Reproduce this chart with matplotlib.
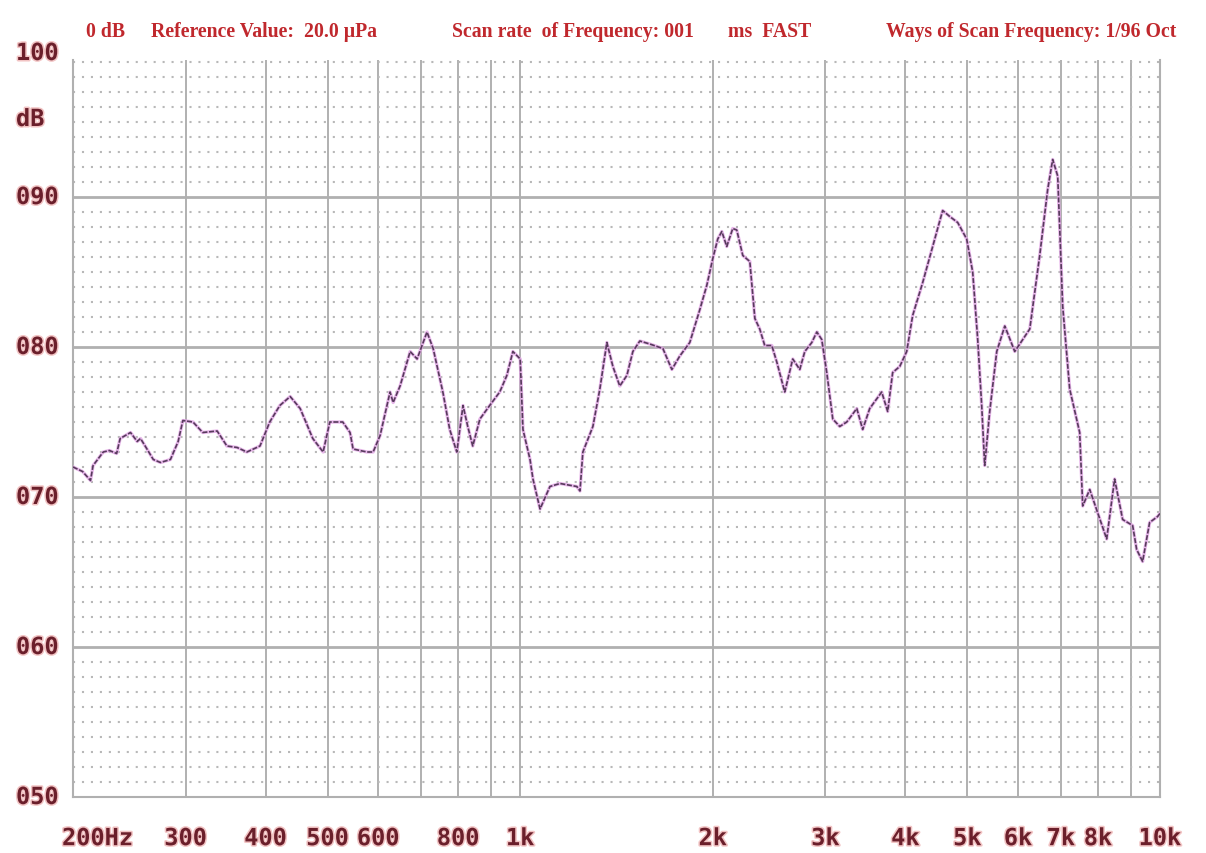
import matplotlib
matplotlib.use('Agg')

import matplotlib.pyplot as plt
import matplotlib.patheffects as pe
import matplotlib.transforms as mtransforms
from matplotlib.ticker import MultipleLocator, NullLocator

# Frequency response
freq_hz = [200, 207, 213, 215, 223, 228, 234, 237, 246, 252, 255, 261, 267, 274, 284,
           292, 297, 308, 319, 336, 348, 361, 374, 392, 406, 421, 437, 453, 474, 492,
           504, 528, 542, 548, 576, 589, 604, 626, 633, 649, 673, 690, 715, 731, 757,
           776, 796, 814, 828, 843, 865, 896, 929, 953, 974, 1000, 1010, 1036, 1047, 1074,
           1113, 1154, 1226, 1240, 1253, 1299, 1332, 1366, 1396, 1431, 1468, 1500, 1538, 1594, 1671,
           1726, 1776, 1841, 1909, 1957, 2000, 2036, 2066, 2103, 2149, 2180, 2228, 2285, 2327, 2368,
           2411, 2473, 2518, 2591, 2667, 2735, 2785, 2856, 2908, 2960, 3014, 3080, 3158, 3239, 3358,
           3430, 3518, 3673, 3753, 3821, 3919, 4019, 4106, 4257, 4413, 4574, 4692, 4828, 4987, 5096,
           5189, 5264, 5321, 5418, 5557, 5720, 5929, 6103, 6258, 6486, 6675, 6796, 6920, 7046, 7225,
           7490, 7572, 7765, 8254, 8493, 8742, 9062, 9194, 9394, 9633, 9914, 10000]
level_db = [72.0, 71.7, 71.1, 72.1, 73.0, 73.1, 72.9, 73.9, 74.3, 73.7, 73.9, 73.2, 72.5, 72.3, 72.5,
            73.7, 75.1, 75.0, 74.3, 74.4, 73.4, 73.3, 73.0, 73.4, 75.0, 76.1, 76.7, 75.9, 73.9, 73.0,
            75.0, 75.0, 74.3, 73.2, 73.0, 73.0, 74.1, 77.0, 76.3, 77.4, 79.7, 79.2, 81.0, 79.9, 77.0,
            74.5, 73.0, 76.1, 74.7, 73.4, 75.2, 76.1, 77.0, 78.1, 79.7, 79.2, 74.5, 72.5, 71.2, 69.2,
            70.7, 70.9, 70.7, 70.4, 73.0, 74.7, 77.2, 80.3, 78.7, 77.4, 78.1, 79.7, 80.4, 80.2, 79.9,
            78.5, 79.4, 80.3, 82.5, 84.1, 85.9, 87.2, 87.7, 86.7, 87.9, 87.8, 86.1, 85.7, 81.9, 81.2,
            80.1, 80.1, 79.0, 77.0, 79.2, 78.5, 79.7, 80.3, 81.0, 80.5, 78.3, 75.2, 74.7, 75.0, 75.9,
            74.5, 75.9, 77.0, 75.7, 78.3, 78.7, 79.7, 82.1, 84.3, 86.7, 89.1, 88.7, 88.3, 87.2, 85.0,
            80.5, 76.1, 72.1, 75.7, 79.7, 81.4, 79.7, 80.5, 81.2, 86.1, 90.5, 92.5, 91.4, 82.7, 77.2,
            74.3, 69.4, 70.5, 67.2, 71.2, 68.5, 68.1, 66.5, 65.7, 68.3, 68.7, 68.9]

# Vertical grid lines and their labels ('' = line without label)
grid_freqs = [200, 300, 400, 500, 600, 700, 800, 900, 1000,
              2000, 3000, 4000, 5000, 6000, 7000, 8000, 9000, 10000]
grid_labels = ['200Hz', '300', '400', '500', '600', '', '800', '', '1k',
               '2k', '3k', '4k', '5k', '6k', '7k', '8k', '', '10k']

y_label_vals = [99.6, 95.2, 90, 80, 70, 60, 50]
y_label_texts = ['100', 'dB', '090', '080', '070', '060', '050']

header_texts = ['0 dB', 'Reference Value:  20.0 \u00b5Pa', 'Scan rate  of Frequency: 001',
                'ms  FAST', 'Ways of Scan Frequency: 1/96 Oct']
header_x = [86, 151, 452, 728, 886]

W, H = 1206, 854
label_color = '#6b1f2b'
glow = [pe.withStroke(linewidth=2.2, foreground='#f2c4c4')]

fig = plt.figure(figsize=(W / 100, H / 100), dpi=100)
ax = fig.add_axes([73 / W, 1 - 798 / H, 1087 / W, 737 / H])

ax.set_xscale('log')
ax.set_xlim(200, 10000)
ax.set_ylim(50, 50 + 737 / 15)

# grid
ax.xaxis.set_minor_locator(NullLocator())
ax.set_xticks(grid_freqs)
ax.set_xticklabels(grid_labels)
ax.yaxis.set_major_locator(MultipleLocator(10))
ax.yaxis.set_minor_locator(MultipleLocator(1))
ax.grid(True, which='major', axis='x', color='#b0b0b0', lw=1.4)
ax.grid(True, which='major', axis='y', color='#b0b0b0', lw=2.0)
ax.grid(True, which='minor', axis='y', color='#b8b8b8', lw=1.5, linestyle=(0, (1, 3.3)))
ax.set_axisbelow(True)

for s in ['left', 'right', 'bottom']:
    ax.spines[s].set_color('#b0b0b0')
    ax.spines[s].set_linewidth(1.5)
ax.spines['top'].set_visible(False)

ax.tick_params(axis='both', which='both', length=0)
ax.tick_params(axis='y', labelleft=False)
ax.tick_params(axis='x', pad=21, labelsize=17, labelcolor=label_color)
for lab in ax.get_xticklabels():
    lab.set_fontfamily('DejaVu Sans Mono')
    lab.set_fontweight('bold')
    lab.set_path_effects(glow)
first = ax.get_xticklabels()[0]
first.set_horizontalalignment('left')
first.set_transform(first.get_transform() + mtransforms.ScaledTranslation(-0.11, 0, fig.dpi_scale_trans))

# y labels sit left of the frame
ytrans = mtransforms.blended_transform_factory(fig.transFigure, ax.transData)
for v, t in zip(y_label_vals, y_label_texts):
    ax.text(16 / W, v, t, transform=ytrans,
            ha='left', va='center', fontsize=17, fontfamily='DejaVu Sans Mono', fontweight='bold',
            color=label_color, clip_on=False, path_effects=glow)

# response curve
ax.plot(freq_hz, level_db, color='#e3a6e6', lw=2.4, alpha=0.8, zorder=3)
ax.plot(freq_hz, level_db, color='#573a5c', lw=1.2, dashes=(3, 1), zorder=4)

# header line
for x, t in zip(header_x, header_texts):
    fig.text(x / W, 1 - 32 / H, t, ha='left', va='center', fontsize=14.2,
             fontfamily='Liberation Serif', fontweight='bold', color='#c0282d')

fig.savefig('out.png', dpi=100, facecolor='white')
